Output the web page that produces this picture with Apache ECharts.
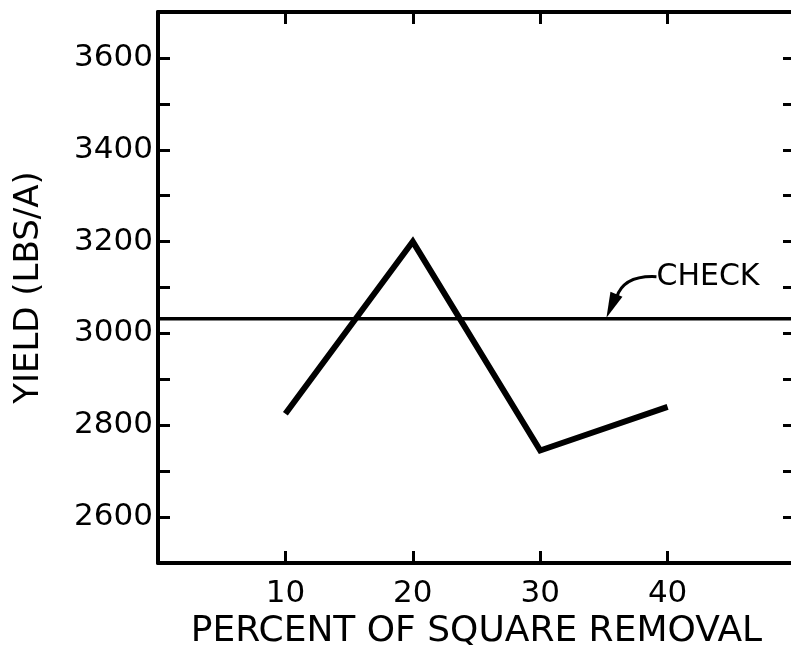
<!DOCTYPE html>
<html><head><meta charset="utf-8">
<script src="https://cdn.jsdelivr.net/npm/echarts@6/dist/echarts.min.js"></script>
<style>html,body{margin:0;padding:0;background:#fff}#c{width:791px;height:645px}</style>
</head><body><div id="c"></div>
<script>
// ---- data ----
const removalPercent = [10, 20, 30, 40];
const yieldValues = [2825, 3200, 2745, 2840];
const checkYield = 3032;
const checkArrowAt = 35.2; // x (percent) where the CHECK arrow touches the line
const xTickLabels = ['10', '20', '30', '40'];
const yTickLabels = ['2600', '2800', '3000', '3200', '3400', '3600'];
const checkLabel = 'CHECK';
const xTitle = 'PERCENT OF SQUARE REMOVAL';
const yTitle = 'YIELD (LBS/A)';

// ---- chart ----
const FONT = 'DejaVu Sans';
const xMin = 0, xMax = 50, yMin = 2500, yMax = 3700;
const chart = echarts.init(document.getElementById('c'), null, {renderer: 'canvas'});
const axisLine = {show: true, onZero: false, lineStyle: {color: '#000', width: 4}};
const tick = {inside: true, length: 12, lineStyle: {color: '#000', width: 3}};

const option = {
  animation: false,
  backgroundColor: '#fff',
  grid: {left: 158, right: -4, top: 12, bottom: 82, containLabel: false, outerBoundsMode: 'none'},
  xAxis: [
    {type: 'value', position: 'bottom', min: xMin, max: xMax, interval: 10,
     axisLine, axisTick: tick, splitLine: {show: false},
     axisLabel: {color: '#000', fontFamily: FONT, fontSize: 31, margin: 15,
       formatter: v => xTickLabels.includes(String(v)) ? String(v) : ''},
     name: xTitle, nameLocation: 'middle', nameGap: 48,
     nameTextStyle: {color: '#000', fontFamily: FONT, fontSize: 36}},
    {type: 'value', position: 'top', min: xMin, max: xMax, interval: 10,
     axisLine, axisTick: tick, splitLine: {show: false}, axisLabel: {show: false}}
  ],
  yAxis: [
    {type: 'value', position: 'left', min: yMin, max: yMax, interval: 100,
     axisLine, axisTick: tick, splitLine: {show: false},
     axisLabel: {color: '#000', fontFamily: FONT, fontSize: 31, margin: 5,
       formatter: v => yTickLabels.includes(String(v)) ? String(v) : ''},
     name: yTitle, nameLocation: 'middle', nameGap: 112, nameRotate: 90,
     nameTextStyle: {color: '#000', fontFamily: FONT, fontSize: 34}},
    {type: 'value', position: 'right', min: yMin, max: yMax, interval: 100,
     axisLine, axisTick: tick, splitLine: {show: false}, axisLabel: {show: false}}
  ],
  series: [
    {type: 'line', xAxisIndex: 0, yAxisIndex: 0, symbol: 'none',
     data: removalPercent.map((x, i) => [x, yieldValues[i]]),
     lineStyle: {color: '#000', width: 6, join: 'miter'}},
    {type: 'line', xAxisIndex: 0, yAxisIndex: 0, symbol: 'none',
     data: [[xMin, checkYield], [xMax, checkYield]],
     lineStyle: {color: '#000', width: 3.5}}
  ]
};
chart.setOption(option);

const tip = chart.convertToPixel({xAxisIndex: 0, yAxisIndex: 0}, [checkArrowAt, checkYield]);
const tx = tip[0], ty = tip[1] - 1;
chart.setOption({
  graphic: [
    {type: 'bezierCurve', z: 100,
     shape: {x1: tx + 50, y1: ty - 41, cpx1: tx + 30, cpy1: ty - 42, cpx2: tx + 15, cpy2: ty - 36, x2: tx + 10, y2: ty - 20},
     style: {stroke: '#000', lineWidth: 3, fill: null}},
    {type: 'polygon', z: 100,
     shape: {points: [[tx, ty], [tx + 4, ty - 26], [tx + 16, ty - 21]]},
     style: {fill: '#000'}},
    {type: 'text', z: 100,
     style: {text: checkLabel, x: tx + 50, y: ty - 41, fontFamily: FONT, fontSize: 30,
       fill: '#000', verticalAlign: 'middle', align: 'left'}}
  ]
});
</script>
</body></html>
